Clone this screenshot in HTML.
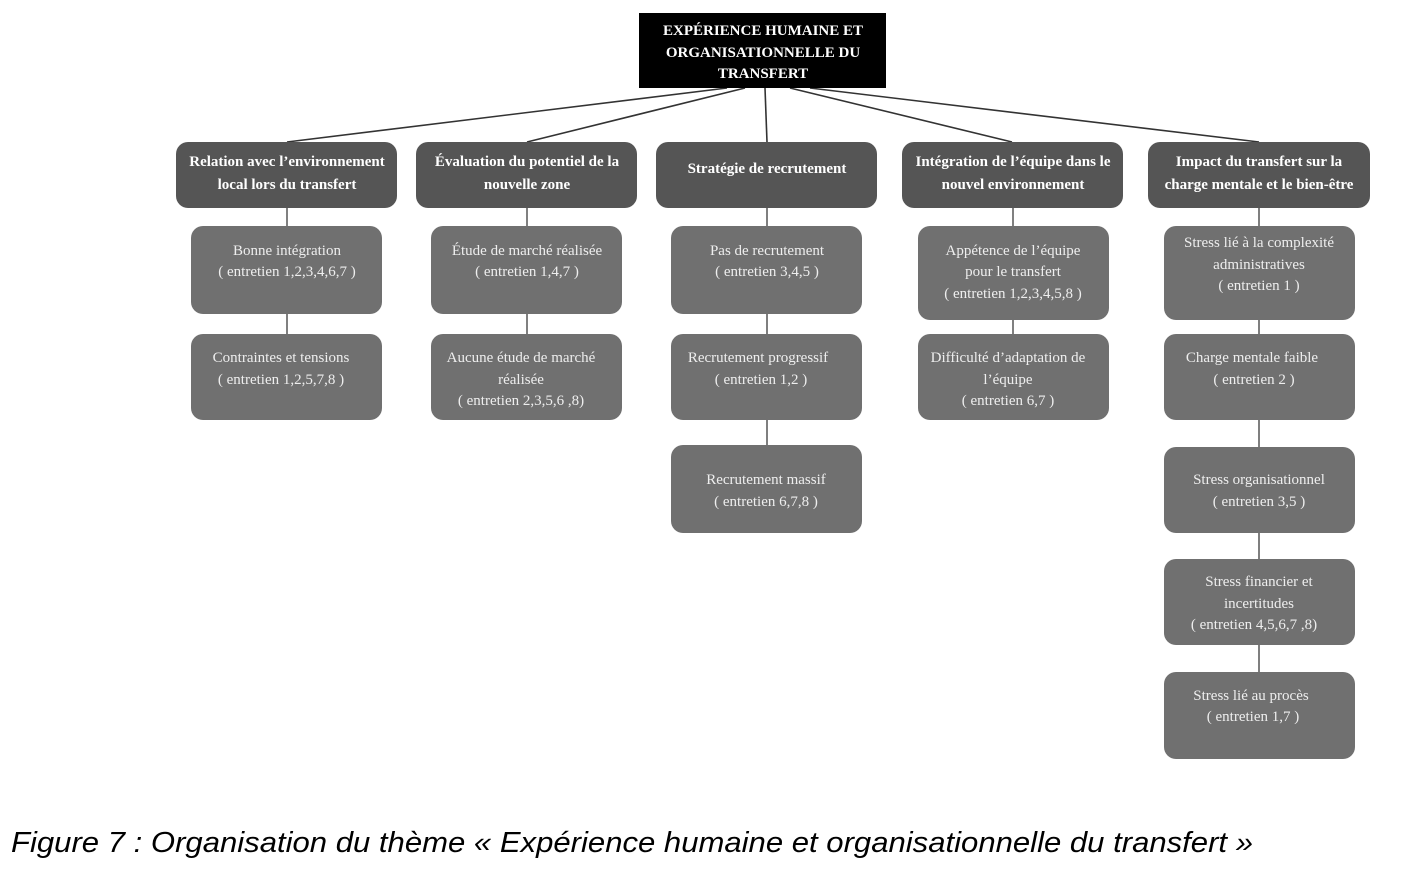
<!DOCTYPE html>
<html><head><meta charset="utf-8"><style>
html,body{margin:0;padding:0;background:#fff;width:1407px;height:874px;overflow:hidden}
svg{display:block}
.h{font-family:"Liberation Serif",serif;font-weight:bold;font-size:15px;fill:#fff;text-anchor:middle}
.c{font-family:"Liberation Serif",serif;font-size:15px;fill:#eee;text-anchor:middle}
.cap{font-family:"Liberation Sans",sans-serif;font-style:italic;font-size:29px;fill:#000}
</style></head><body>
<svg width="1407" height="874" xmlns="http://www.w3.org/2000/svg">
<g stroke="#333" stroke-width="1.6" fill="none">
<line x1="727" y1="88" x2="287" y2="142"/>
<line x1="745" y1="88" x2="527" y2="142"/>
<line x1="765" y1="88" x2="767" y2="142"/>
<line x1="790" y1="88" x2="1012" y2="142"/>
<line x1="810" y1="88" x2="1259" y2="142"/>
</g>
<g stroke="#555" stroke-width="1.5">
<line x1="287" y1="208" x2="287" y2="334"/>
<line x1="527" y1="208" x2="527" y2="334"/>
<line x1="767" y1="208" x2="767" y2="445"/>
<line x1="1013" y1="208" x2="1013" y2="334"/>
<line x1="1259" y1="208" x2="1259" y2="672"/>
</g>
<rect x="639" y="13" width="247" height="75" fill="#000"/>
<text class="h" x="763" y="35">EXPÉRIENCE HUMAINE  ET</text>
<text class="h" x="763" y="57">ORGANISATIONNELLE DU</text>
<text class="h" x="763" y="78">TRANSFERT</text>
<g fill="#555">
<rect x="176" y="142" width="221" height="66" rx="12"/>
<rect x="416" y="142" width="221" height="66" rx="12"/>
<rect x="656" y="142" width="221" height="66" rx="12"/>
<rect x="902" y="142" width="221" height="66" rx="12"/>
<rect x="1148" y="142" width="222" height="66" rx="12"/>
</g>
<text class="h" x="287" y="166">Relation avec l’environnement</text>
<text class="h" x="287" y="189">local lors du transfert</text>
<text class="h" x="527" y="166">Évaluation du potentiel de la</text>
<text class="h" x="527" y="189">nouvelle zone</text>
<text class="h" x="767" y="173">Stratégie de recrutement</text>
<text class="h" x="1013" y="166">Intégration de l’équipe dans le</text>
<text class="h" x="1013" y="189">nouvel environnement</text>
<text class="h" x="1259" y="166">Impact du transfert sur la</text>
<text class="h" x="1259" y="189">charge mentale et le bien-être</text>
<g fill="#707070">
<rect x="191" y="226" width="191" height="88" rx="12"/>
<rect x="191" y="334" width="191" height="86" rx="12"/>
<rect x="431" y="226" width="191" height="88" rx="12"/>
<rect x="431" y="334" width="191" height="86" rx="12"/>
<rect x="671" y="226" width="191" height="88" rx="12"/>
<rect x="671" y="334" width="191" height="86" rx="12"/>
<rect x="671" y="445" width="191" height="88" rx="12"/>
<rect x="918" y="226" width="191" height="94" rx="12"/>
<rect x="918" y="334" width="191" height="86" rx="12"/>
<rect x="1164" y="226" width="191" height="94" rx="12"/>
<rect x="1164" y="334" width="191" height="86" rx="12"/>
<rect x="1164" y="447" width="191" height="86" rx="12"/>
<rect x="1164" y="559" width="191" height="86" rx="12"/>
<rect x="1164" y="672" width="191" height="87" rx="12"/>
</g>
<text class="c" x="287" y="255">Bonne intégration</text>
<text class="c" x="287" y="276">( entretien 1,2,3,4,6,7 )</text>
<text class="c" x="281" y="362">Contraintes et tensions</text>
<text class="c" x="281" y="384">( entretien 1,2,5,7,8 )</text>
<text class="c" x="527" y="255">Étude de marché réalisée</text>
<text class="c" x="527" y="276">( entretien 1,4,7 )</text>
<text class="c" x="521" y="362">Aucune étude de marché</text>
<text class="c" x="521" y="384">réalisée</text>
<text class="c" x="521" y="405">( entretien 2,3,5,6 ,8)</text>
<text class="c" x="767" y="255">Pas de recrutement</text>
<text class="c" x="767" y="276">( entretien 3,4,5 )</text>
<text class="c" x="758" y="362">Recrutement progressif</text>
<text class="c" x="761" y="384">( entretien 1,2 )</text>
<text class="c" x="766" y="484">Recrutement massif</text>
<text class="c" x="766" y="506">( entretien 6,7,8 )</text>
<text class="c" x="1013" y="255">Appétence de l’équipe</text>
<text class="c" x="1013" y="276">pour le transfert</text>
<text class="c" x="1013" y="298">( entretien 1,2,3,4,5,8 )</text>
<text class="c" x="1008" y="362">Difficulté d’adaptation de</text>
<text class="c" x="1008" y="384">l’équipe</text>
<text class="c" x="1008" y="405">( entretien 6,7 )</text>
<text class="c" x="1259" y="247">Stress lié à la complexité</text>
<text class="c" x="1259" y="269">administratives</text>
<text class="c" x="1259" y="290">( entretien 1 )</text>
<text class="c" x="1252" y="362">Charge mentale faible</text>
<text class="c" x="1254" y="384">( entretien 2 )</text>
<text class="c" x="1259" y="484">Stress organisationnel</text>
<text class="c" x="1259" y="506">( entretien 3,5 )</text>
<text class="c" x="1259" y="586">Stress financier et</text>
<text class="c" x="1259" y="608">incertitudes</text>
<text class="c" x="1254" y="629">( entretien 4,5,6,7 ,8)</text>
<text class="c" x="1251" y="700">Stress lié au procès</text>
<text class="c" x="1253" y="721">( entretien 1,7 )</text>
<text class="cap" x="11" y="852" textLength="1242" lengthAdjust="spacingAndGlyphs">Figure 7 : Organisation du thème « Expérience humaine et organisationnelle du transfert »</text>
</svg>
</body></html>
